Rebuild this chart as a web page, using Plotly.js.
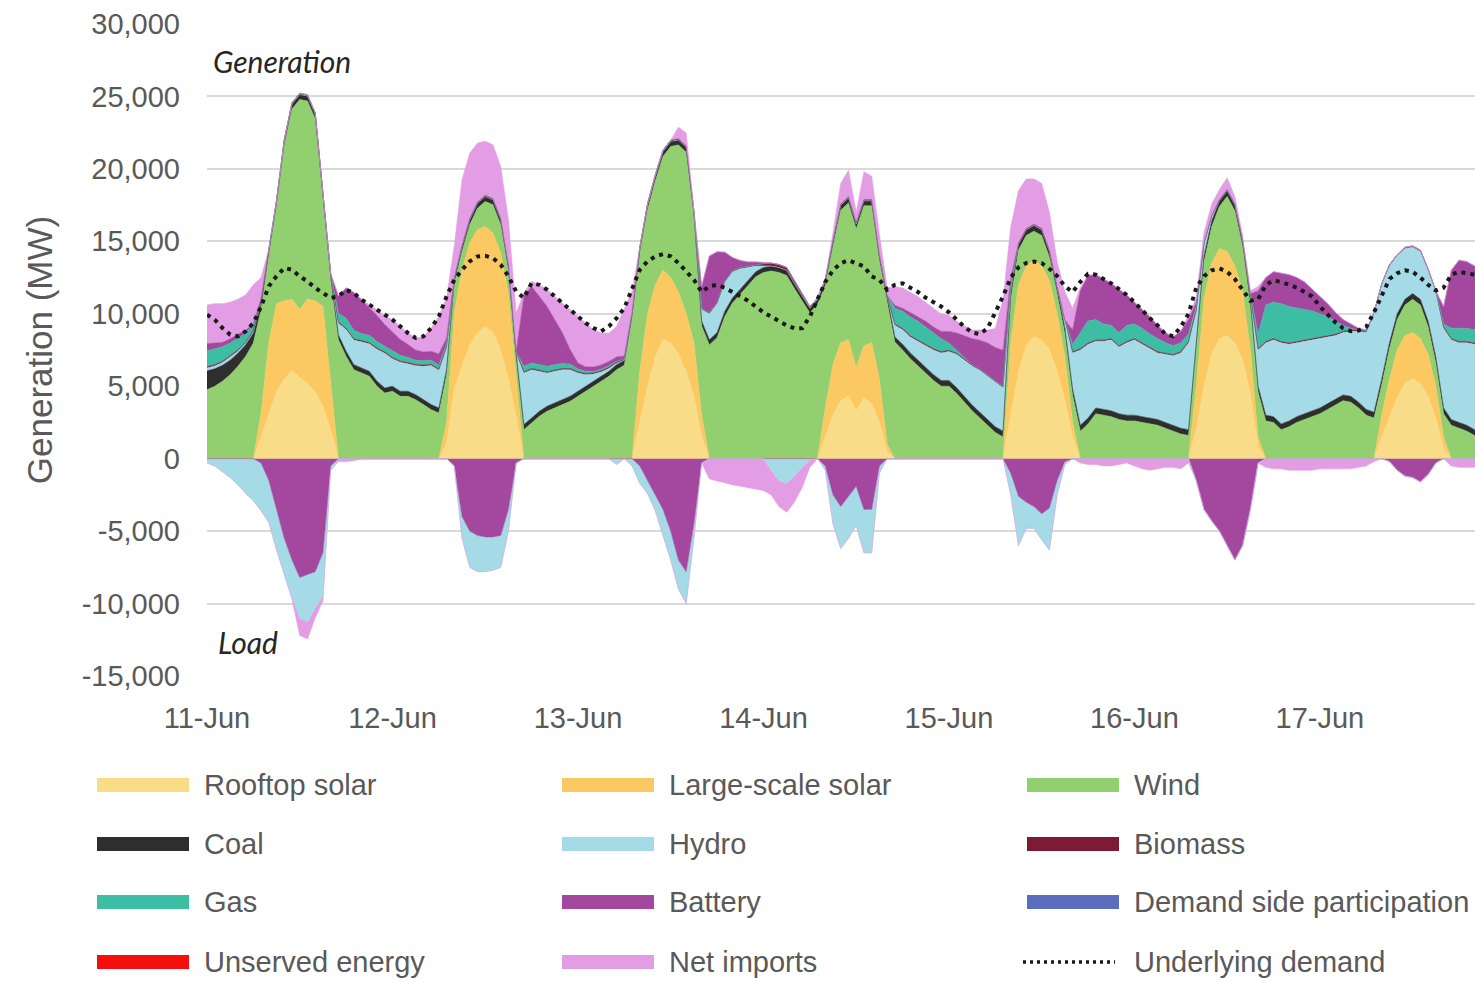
<!DOCTYPE html>
<html>
<head>
<meta charset="utf-8">
<script src="https://cdn.plot.ly/plotly-3.0.1.min.js"></script>
<style>
html,body{margin:0;padding:0;background:#ffffff;}
#chart{width:1475px;height:982px;}
</style>
</head>
<body>
<div id="chart"></div>
<script>
// ---------------- DATA (hourly, 11-Jun 00:00 to 17-Jun 21:00, MW) ----------------
const dayLabels = ['11-Jun','12-Jun','13-Jun','14-Jun','15-Jun','16-Jun','17-Jun'];
const dayDates  = ['2023-06-11','2023-06-12','2023-06-13','2023-06-14','2023-06-15','2023-06-16','2023-06-17'];
const yTickValues = [-15000,-10000,-5000,0,5000,10000,15000,20000,25000,30000];
const yTickLabels = ['-15,000','-10,000','-5,000','0','5,000','10,000','15,000','20,000','25,000','30,000'];

const rooftopSolar = [
 0,0,0,0,0,0,0,1500,3000,4600,5500,6100,5600,5200,4600,3600,2000,0,0,0,0,0,0,0,
 0,0,0,0,0,0,0,1000,4800,6400,7800,8700,9100,8700,7500,5500,2900,0,0,0,0,0,0,0,
 0,0,0,0,0,0,0,0,2500,5000,7000,8200,8000,7200,6000,4300,1500,0,0,0,0,0,0,0,
 0,0,0,0,0,0,0,0,1500,3000,4000,4300,3300,4200,3800,2500,500,0,0,0,0,0,0,0,
 0,0,0,0,0,0,0,0,3000,6000,7800,8400,8200,7500,6000,4000,1500,0,0,0,0,0,0,0,
 0,0,0,0,0,0,0,0,2000,5000,7200,8300,8500,8000,6800,4500,800,0,0,0,0,0,0,0,
 0,0,0,0,0,0,0,0,1500,2800,4200,5200,5500,5200,4300,2800,700,0,0,0,0,0];

const largeSolar = [
 0,0,0,0,0,0,0,1650,5000,6100,5400,4900,4700,5800,6300,6900,3000,0,0,0,0,0,0,0,
 0,0,0,0,0,0,0,1500,5250,6640,7100,7100,6930,6870,6690,5840,2550,0,0,0,0,0,0,0,
 0,0,0,0,0,0,0,0,3500,5000,5000,4800,4500,4300,4000,3700,1500,0,0,0,0,0,0,0,
 0,0,0,0,0,0,0,0,2000,3500,4000,3900,3000,3600,4200,3000,500,0,0,0,0,0,0,0,
 0,0,0,0,0,0,0,0,5000,6000,5500,5300,5100,4800,4000,3000,1000,0,0,0,0,0,0,0,
 0,0,0,0,0,0,0,0,3000,6000,6300,6200,5800,5300,4700,3000,700,0,0,0,0,0,0,0,
 0,0,0,0,0,0,0,0,1500,2700,3300,3300,3200,3100,2900,2200,800,0,0,0,0,0];

const wind = [
 4760,5000,5340,5800,6370,7060,7980,7150,6000,6700,10690,13130,14490,13680,12540,7600,7350,8200,7060,6140,5900,5680,5000,4530,
 4650,4300,4300,4070,3730,3380,3150,3300,2000,1260,1240,1490,1720,1950,1950,1580,1490,2000,2460,2920,3270,3500,3730,3960,
 4300,4650,4990,5340,5680,6140,6450,9650,8150,7150,7150,7850,9050,10150,11150,8650,6150,7850,8350,9820,10750,11350,11950,12550,
 12850,12950,12850,12650,11750,10850,10050,10650,8450,8150,9150,9450,9550,9650,9450,8150,9850,8050,7500,6900,6400,5900,5400,5000,
 5000,4500,3900,3300,2800,2300,1800,1500,3000,2400,2100,2000,2100,1600,1400,1600,1900,1900,2400,3100,3000,2900,2700,2600,
 2600,2500,2400,2300,2100,1900,1700,1600,2800,2600,2500,2900,3800,3800,3100,3100,3100,2600,2500,2000,2200,2500,2700,2900,
 3100,3400,3700,4000,3900,3500,3000,2800,2100,2100,2100,2100,2300,2300,1900,1600,1600,2300,2100,1900,1600,1600];

const coal = [
 1300,1200,1100,1000,900,800,700,500,400,350,350,350,350,350,350,350,350,350,350,350,350,350,350,350,
 350,350,350,350,350,350,350,350,350,350,350,350,350,350,350,350,350,350,350,350,350,350,350,350,
 350,350,350,350,350,350,350,350,350,350,350,350,350,350,350,350,350,350,350,350,350,350,350,350,
 350,350,350,350,350,350,350,350,350,350,350,350,350,350,350,350,350,350,400,400,400,400,400,400,
 400,400,400,400,400,400,400,400,400,400,400,400,400,400,400,400,400,400,400,400,400,400,400,400,
 400,400,400,400,400,400,400,400,400,400,400,400,400,400,400,400,400,400,400,400,400,400,400,400,
 400,400,400,400,400,400,400,400,400,400,400,400,400,400,400,400,400,400,400,400,400,400];

const hydro = [
 200,200,200,200,150,100,100,0,0,0,0,0,0,0,0,0,0,800,1500,1700,1800,1900,2200,2400,
 1900,2000,1900,2000,2300,2700,2600,1500,0,0,0,0,0,0,0,0,0,3560,3330,2760,2290,2180,2060,1830,
 1260,800,500,300,200,100,0,0,0,0,0,0,0,0,0,0,800,1800,2000,2000,1800,1400,900,400,
 100,0,0,0,0,0,0,0,0,0,0,0,0,0,0,0,0,800,1000,1100,1300,1500,1700,1900,
 2000,2300,2500,2700,2900,3000,3100,3000,500,0,0,0,0,0,0,500,2500,5200,5100,4600,4700,4900,4600,5000,
 5200,5000,4800,4600,4700,4800,5200,6000,2000,800,300,0,0,0,0,300,2500,5000,5300,5600,5300,5100,5000,4900,
 4800,4600,4400,4300,4500,4900,5300,6800,6500,5300,4000,3500,3200,3300,3500,4500,5500,5500,5500,5700,5900,5900];

const biomass = [
 80,80,80,80,80,80,80,80,80,80,80,80,80,80,80,80,80,80,80,80,80,80,80,80,
 80,80,80,80,80,80,80,80,80,80,80,80,80,80,80,80,80,80,80,80,80,80,80,80,
 80,80,80,80,80,80,80,80,80,80,80,80,80,80,80,80,80,80,80,80,80,80,80,80,
 150,200,200,200,200,150,100,80,80,80,80,80,80,80,80,80,80,80,80,80,80,80,80,80,
 80,80,80,80,80,80,80,80,80,80,80,80,80,80,80,80,80,80,80,80,80,80,80,80,
 80,80,80,80,80,80,80,80,80,80,80,80,80,80,80,80,80,80,80,80,80,80,80,80,
 80,80,80,80,80,80,80,80,80,80,80,80,80,80,80,80,80,80,80,80,80,80];

const gas = [
 1100,1100,1000,900,800,600,400,200,0,0,0,0,0,0,0,0,0,600,700,600,500,500,450,400,
 450,400,350,300,300,300,250,200,0,0,0,0,0,0,0,0,0,380,380,380,380,380,350,300,
 200,150,100,100,100,50,0,0,0,0,0,0,0,0,0,0,0,0,0,0,0,0,0,0,
 0,0,0,0,0,0,0,0,0,0,0,0,0,0,0,0,0,1100,1200,1300,1300,1200,1100,900,
 500,200,100,0,0,0,0,0,0,0,0,0,0,0,0,0,500,1120,1520,1420,1120,920,920,1120,
 1020,1020,920,920,720,620,620,520,200,0,0,0,0,0,0,0,1000,2520,2520,2620,2520,2320,2120,1920,
 1620,1320,920,420,120,20,0,0,0,0,0,0,0,0,0,0,220,720,920,920,920,820];

const batteryDischarge = [
 500,400,300,300,300,200,100,0,0,0,0,0,0,0,0,0,0,1200,2100,2600,2300,1900,1800,1500,
 1300,1100,900,700,600,600,800,400,0,0,0,0,0,0,0,0,0,4830,5290,4710,4140,3100,2100,1000,
 410,300,300,300,300,300,200,0,0,0,0,0,0,0,0,0,1500,3900,3500,2000,900,500,300,200,
 100,0,0,0,0,0,0,0,0,0,0,0,0,0,0,0,0,200,200,300,300,400,400,500,
 800,1200,1500,1800,2000,2200,2300,2500,500,0,0,0,0,0,0,0,1000,2900,3100,3100,3100,2900,3000,2100,
 1500,1300,1200,900,700,600,800,1000,300,0,0,0,0,0,0,0,3000,1900,2100,2100,2200,2100,1900,1500,
 1200,900,600,400,300,100,100,0,0,0,0,0,0,0,0,0,1200,4000,4700,4600,4400,4200];

const netImports = [
 2660,2720,2680,2520,2400,2460,2640,1420,0,0,0,0,0,0,0,0,0,0,0,0,100,200,400,600,
 860,900,800,830,1080,1600,2600,2800,2200,4520,4520,4060,3720,3720,3600,3140,2680,230,350,800,1150,1610,2070,2760,
 3220,3030,2580,2200,1960,2110,3300,1500,0,0,0,0,0,800,900,300,0,0,0,0,0,0,0,0,
 0,0,0,0,0,0,0,0,0,520,1420,1820,720,1920,1620,1420,520,1300,1400,1400,1400,1300,1300,1200,
 1100,800,700,600,700,900,1300,3500,3520,3620,3420,3120,3120,2620,1720,1920,1500,200,100,0,0,0,0,0,
 0,0,0,0,0,0,0,300,300,700,800,700,800,500,300,200,300,0,0,0,0,0,0,0,
 0,0,0,0,0,0,0,0,0,0,0,0,0,0,0,0,0,0,0,0,0,0];

// Load side (negative values)
const batteryCharge = [
 0,0,0,0,0,0,0,-300,-1500,-3500,-5500,-7000,-8200,-8000,-7800,-6500,-500,0,0,0,0,0,0,0,
 0,0,0,0,0,0,0,0,-500,-4000,-5000,-5300,-5400,-5400,-5300,-3500,-300,0,0,0,0,0,0,0,
 0,0,0,0,0,0,0,0,-500,-1500,-2500,-3500,-5000,-7000,-7800,-4500,-300,0,0,0,0,0,0,0,
 0,0,0,0,0,0,0,0,-500,-2500,-3300,-2600,-1900,-3500,-3500,-500,0,0,0,0,0,0,0,0,
 0,0,0,0,0,0,0,0,-1000,-2600,-3000,-3300,-3800,-3400,-1500,-200,0,0,0,0,0,0,0,0,
 0,0,0,0,0,0,0,0,-1500,-3500,-4300,-5000,-6000,-7000,-6000,-3500,-300,0,0,0,0,0,0,0,
 0,0,0,0,0,0,0,0,0,-200,-800,-1200,-1300,-1600,-1100,-300,0,0,0,0,0,0];

const hydroPumping = [
 -300,-500,-900,-1300,-1800,-2400,-2900,-3300,-2900,-2800,-2500,-2500,-2800,-3250,-2500,-3000,-300,0,0,0,0,0,0,0,
 0,0,0,0,0,0,0,0,0,-1500,-2500,-2500,-2400,-2300,-2200,-1500,0,0,0,0,0,0,0,0,
 0,0,0,0,0,-400,0,-500,-1200,-900,-1100,-1800,-2000,-2000,-2200,-1000,0,0,0,0,0,0,0,0,
 0,-800,-1500,-1700,-1200,-600,-100,0,-300,-2000,-2900,-2900,-2700,-3000,-3000,-500,0,0,0,0,0,0,0,0,
 0,0,0,0,0,0,0,0,-1500,-3400,-1800,-1500,-1800,-2900,-1000,-200,0,0,0,0,0,0,0,0,
 0,0,0,0,0,0,0,0,0,0,0,0,0,0,0,0,0,0,0,0,0,0,0,0,
 0,0,0,0,0,0,0,0,0,0,0,0,0,0,0,0,0,0,0,0,0,0];

const netExports = [
 0,0,0,0,0,0,0,0,0,0,0,-200,-1200,-1200,-700,-300,0,-200,-200,-150,0,0,0,0,
 0,0,0,0,0,0,0,0,0,0,0,0,0,0,0,0,0,0,0,0,0,0,0,0,
 0,0,0,0,0,0,0,0,0,0,0,0,0,0,0,0,0,-1400,-1550,-1650,-1800,-1900,-2000,-2100,
 -2200,-1700,-1800,-2000,-1800,-1400,-500,0,0,0,0,0,0,0,0,0,0,0,0,0,0,0,0,0,
 0,0,0,0,0,0,0,0,0,0,0,0,0,0,0,0,0,-300,-400,-400,-500,-500,-400,-300,
 -500,-700,-800,-700,-600,-600,-700,-300,0,0,0,0,0,0,0,0,0,-600,-700,-700,-800,-800,-800,-800,
 -700,-700,-700,-700,-700,-600,-500,-200,0,0,0,0,0,0,0,0,0,-500,-600,-600,-600,-600];

const underlyingDemand = [
 9940,9590,9020,8560,8440,8790,9360,10500,11900,12600,13160,13040,12580,12240,11780,11430,11090,11200,11660,11430,10970,10630,10280,9940,
 9590,9130,8670,8330,8440,9020,9820,11200,12350,13040,13620,13960,14000,13850,13390,12580,11550,11090,12120,12000,11660,11200,10740,10280,
 9820,9360,9020,8790,9130,9700,10400,11780,13040,13620,13960,14120,13960,13500,12930,12350,11500,11900,12000,11800,11500,11200,10900,10500,
 10100,9800,9500,9200,9000,9000,9800,11000,12200,13000,13500,13700,13500,13270,12580,12350,11660,12000,12100,11800,11500,11100,10800,10500,
 10100,9600,9100,8700,8600,9000,10100,11200,12500,13200,13500,13600,13500,13100,12600,11900,11500,12200,12760,12700,12400,12100,11700,11300,
 10800,10200,9700,9200,8600,8450,9100,10000,11800,12600,13000,13130,12900,12400,11650,10900,11000,12000,12300,12200,12000,11800,11500,11200,
 10500,9900,9400,9000,8800,8850,9100,10100,11200,12400,12800,13000,12900,12500,12000,11600,11800,12700,12900,12800,12700,12600];

const legendNames = ['Rooftop solar','Large-scale solar','Wind','Coal','Hydro','Biomass','Gas','Battery',
  'Demand side participation','Unserved energy','Net imports','Underlying demand'];

// ---------------- STYLE ----------------
const COLORS = {
  'Rooftop solar':'#f9dc87', 'Large-scale solar':'#fcc862', 'Wind':'#92d06f', 'Coal':'#2e2e2e',
  'Hydro':'#a4dbe7', 'Biomass':'#7d1a35', 'Gas':'#3dbea4', 'Battery':'#a4479e',
  'Demand side participation':'#5b6dbd', 'Unserved energy':'#f40e0e', 'Net imports':'#e39de4',
  'Underlying demand':'#1a1a1a'
};
const TXT = '#595959';
const FONT = '"Liberation Sans", Arial, sans-serif';

// hourly time axis
const times = [];
for (let h = 0; h < rooftopSolar.length; h++) {
  const d = 11 + Math.floor(h / 24), hh = h % 24;
  times.push('2023-06-' + String(d).padStart(2,'0') + ' ' + String(hh).padStart(2,'0') + ':00');
}

function area(y, name, group) {
  const c = COLORS[name];
  return {type:'scatter', mode:'lines', x: times, y: y, name: name, stackgroup: group,
    line:{width:0.6, color:c, shape:'linear'}, fillcolor:c, hoverinfo:'skip', showlegend:false};
}

const traces = [
  area(rooftopSolar,'Rooftop solar','gen'),
  area(largeSolar,'Large-scale solar','gen'),
  area(wind,'Wind','gen'),
  area(coal,'Coal','gen'),
  area(hydro,'Hydro','gen'),
  area(biomass,'Biomass','gen'),
  area(gas,'Gas','gen'),
  area(batteryDischarge,'Battery','gen'),
  area(netImports,'Net imports','gen'),
  area(batteryCharge,'Battery','load'),
  area(hydroPumping,'Hydro','load'),
  area(netExports,'Net imports','load'),
  {type:'scatter', mode:'lines', x: times, y: underlyingDemand, name:'Underlying demand',
   line:{color:COLORS['Underlying demand'], width:4, dash:'4px,5px'}, hoverinfo:'skip', showlegend:false}
];

// ---------------- LAYOUT ----------------
const W = 1475, H = 982;
const M = {l:207, r:0, t:24, b:306};
const plotW = W - M.l - M.r, plotH = H - M.t - M.b;
const px2x = px => (px - M.l) / plotW;
const py2y = py => (H - M.b - py) / plotH;

const shapes = [], annotations = [];
const colSwatch = [97, 562, 1027], colText = [202, 667, 1132], rowY = [785, 844, 902, 962];
legendNames.forEach((nm, i) => {
  const c = i % 3, r = Math.floor(i / 3);
  const yc = rowY[r];
  if (nm === 'Underlying demand') {
    shapes.push({type:'line', xref:'paper', yref:'paper', x0:px2x(colSwatch[c]-4), x1:px2x(colSwatch[c]+88),
      y0:py2y(yc), y1:py2y(yc), line:{color:COLORS[nm], width:3.5, dash:'3px,4px'}});
  } else {
    shapes.push({type:'rect', xref:'paper', yref:'paper', x0:px2x(colSwatch[c]), x1:px2x(colSwatch[c]+92),
      y0:py2y(yc+7), y1:py2y(yc-7), fillcolor:COLORS[nm], line:{width:0}});
  }
  annotations.push({xref:'paper', yref:'paper', x:px2x(colText[c]), y:py2y(yc), xanchor:'left', yanchor:'middle',
    text:nm, showarrow:false, font:{family:FONT, size:29, color:TXT}});
});
annotations.push({xref:'paper', yref:'paper', x:px2x(211), y:py2y(61), xanchor:'left', yanchor:'middle',
  text:'<i>Generation</i>', showarrow:false, font:{family:'Lato, "Open Sans", sans-serif', size:30, color:'#262626'}});
annotations.push({xref:'paper', yref:'paper', x:px2x(216), y:py2y(642), xanchor:'left', yanchor:'middle',
  text:'<i>Load</i>', showarrow:false, font:{family:'Lato, "Open Sans", sans-serif', size:30, color:'#262626'}});

const layout = {
  width:W, height:H, margin:M, paper_bgcolor:'#ffffff', plot_bgcolor:'#ffffff',
  showlegend:false, hovermode:false,
  xaxis:{type:'date', range:['2023-06-11 00:00','2023-06-17 20:04'], tickvals:dayDates, ticktext:dayLabels,
    showgrid:false, zeroline:false, showline:false, ticks:'', ticklabelstandoff:22,
    tickfont:{family:FONT, size:29, color:TXT}},
  yaxis:{range:[-15000,30000], tickvals:yTickValues, ticktext:yTickLabels, showgrid:true, gridcolor:'#d9d9d9',
    gridwidth:2, zeroline:false, showline:false, ticks:'', ticklabelstandoff:26,
    tickfont:{family:FONT, size:29, color:TXT},
    title:{text:'Generation (MW)', font:{family:FONT, size:35, color:TXT}, standoff:18}},
  shapes:shapes, annotations:annotations
};

Plotly.newPlot('chart', traces, layout, {staticPlot:true, displayModeBar:false});
</script>
</body>
</html>
